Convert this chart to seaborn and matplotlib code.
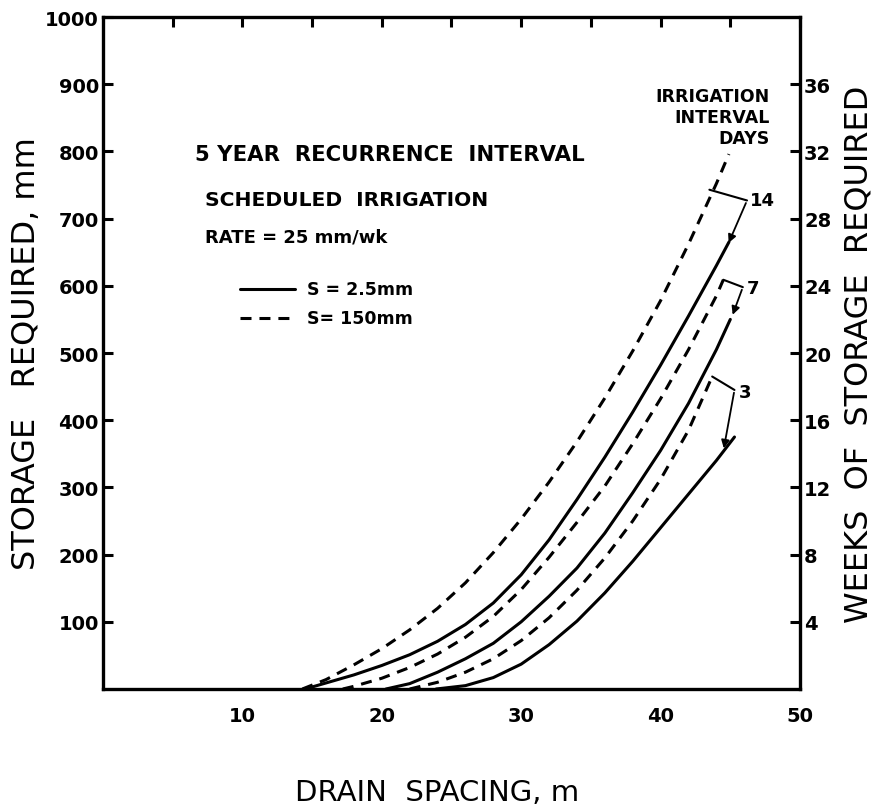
import numpy as np
import pandas as pd
import matplotlib
matplotlib.use("Agg")
import matplotlib.pyplot as plt
import seaborn as sns

# ---------------- data ----------------
# drain spacing (m) and storage required (mm)
d14_x = [14.3, 16, 18, 20, 22, 24, 26, 28, 30, 32, 34, 36, 38, 40, 42, 44, 44.9]
d14_y = [0, 14, 36, 60, 88, 120, 158, 203, 253, 308, 368, 433, 503, 578, 662, 752, 796]

s14_x = [14.5, 16, 18, 20, 22, 24, 26, 28, 30, 32, 34, 36, 38, 40, 42, 44, 44.9]
s14_y = [0, 9, 21, 35, 51, 71, 96, 128, 170, 222, 282, 345, 412, 482, 555, 630, 665]

d7_x = [17.2, 18, 20, 22, 24, 26, 28, 30, 32, 34, 36, 38, 40, 42, 44, 44.5]
d7_y = [0, 4, 16, 32, 52, 77, 108, 148, 196, 248, 302, 365, 432, 505, 585, 609]

s7_x = [20.3, 22, 24, 26, 28, 30, 32, 34, 36, 38, 40, 42, 44, 45]
s7_y = [0, 8, 25, 45, 68, 100, 138, 180, 232, 292, 355, 425, 505, 550]

d3_x = [22.0, 24, 26, 28, 30, 32, 34, 36, 38, 40, 42, 43.7]
d3_y = [0, 10, 25, 45, 72, 106, 147, 195, 250, 312, 385, 465]

s3_x = [23.9, 26, 28, 30, 32, 34, 36, 38, 40, 42, 44, 45.3]
s3_y = [0, 5, 17, 37, 66, 101, 143, 190, 240, 290, 340, 375]

intervals = ["14", "14", "7", "7", "3", "3"]
surface = ["S= 150mm", "S= 2.5mm", "S= 150mm", "S= 2.5mm", "S= 150mm", "S= 2.5mm"]

x_major = [5, 10, 15, 20, 25, 30, 35, 40, 45, 50]
x_labels = ["", "10", "", "20", "", "30", "", "40", "", "50"]
y_ticks = [100, 200, 300, 400, 500, 600, 700, 800, 900, 1000]
week_ticks = [4, 8, 12, 16, 20, 24, 28, 32, 36]
mm_per_week = 25

curves_x = [d14_x, s14_x, d7_x, s7_x, d3_x, s3_x]
curves_y = [d14_y, s14_y, d7_y, s7_y, d3_y, s3_y]

frames = []
for cx, cy, iv, sf in zip(curves_x, curves_y, intervals, surface):
    frames.append(pd.DataFrame({"spacing": cx, "storage": cy,
                                "interval": iv, "surface": sf}))
df = pd.concat(frames, ignore_index=True)

# ---------------- figure ----------------
sns.set_theme(style="white")
plt.rcParams['font.family'] = ['DejaVu Sans']
plt.rcParams.update({"text.color": "black", "axes.labelcolor": "black",
                     "xtick.color": "black", "ytick.color": "black"})

fig = plt.figure(figsize=(8.78, 8.12), dpi=100)
ax = fig.add_axes([103/878, 1-690/812, (800-103)/878, (690-18)/812])

dash_style = (0, (3.6, 2.6))
for (iv, sf), g in df.groupby(["interval", "surface"], sort=False):
    ls = "-" if "2.5" in sf else dash_style
    sns.lineplot(data=g, x="spacing", y="storage", ax=ax, color="black",
                 linewidth=2.2, linestyle=ls, estimator=None, sort=False,
                 legend=False)

ax.set_xlim(0, 50)
ax.set_ylim(0, 1000)
ax.set_xticks(x_major)
ax.set_xticklabels(x_labels)
ax.set_yticks(y_ticks)
ax.set_yticklabels([str(v) for v in y_ticks])
ax.tick_params(axis="both", direction="in", length=7, width=2.2,
               labelsize=14, colors="black")
ax.tick_params(axis="x", top=True, pad=12)
ax.tick_params(axis="y", left=True, pad=3)
for lab in ax.get_xticklabels() + ax.get_yticklabels():
    lab.set_fontweight("bold")
for sp in ax.spines.values():
    sp.set_linewidth(2.4)
    sp.set_color("black")

ax.set_xlabel("DRAIN  SPACING, m", fontsize=21, color="black")
ax.xaxis.set_label_coords(0.479, -0.132)
ax.set_ylabel("STORAGE   REQUIRED, mm", fontsize=23, color="black")
ax.yaxis.set_label_coords(-0.088, 0.5)

# right axis: weeks of storage
ax2 = ax.twinx()
ax2.set_ylim(0, 1000 / mm_per_week)
ax2.set_yticks(week_ticks)
ax2.set_yticklabels([str(v) for v in week_ticks])
ax2.tick_params(axis="y", direction="in", length=7, width=2.2,
                labelsize=14, colors="black", pad=3)
for lab in ax2.get_yticklabels():
    lab.set_fontweight("bold")
for sp in ax2.spines.values():
    sp.set_visible(False)
ax2.set_ylabel("WEEKS  OF  STORAGE  REQUIRED", fontsize=23, color="black")
ax2.yaxis.set_label_coords(1.063, 0.5)

# ---------------- annotations ----------------
ax.text(6.6, 796, "5 YEAR  RECURRENCE  INTERVAL", fontsize=15.3,
        fontweight="bold", va="center", ha="left")
ax.text(7.3, 729, "SCHEDULED  IRRIGATION", fontsize=14.6,
        fontweight="bold", va="center", ha="left")
ax.text(7.3, 674, "RATE = 25 mm/wk", fontsize=13,
        fontweight="bold", va="center", ha="left")

ax.plot([9.8, 13.8], [595, 595], color="black", lw=2.2)
ax.text(14.6, 595, "S = 2.5mm", fontsize=12.5, fontweight="bold", va="center")
ax.plot([9.8, 13.8], [552, 552], color="black", lw=2.2, linestyle=dash_style)
ax.text(14.6, 552, "S= 150mm", fontsize=12.5, fontweight="bold", va="center")

ax.text(47.8, 851, "IRRIGATION\nINTERVAL\nDAYS", fontsize=12.5,
        fontweight="bold", ha="right", va="center", linespacing=1.2,
        multialignment="right")

# brackets with arrows
brackets = [
    ((43.5, 743), (46.2, 727), (44.8, 660), "14", (46.4, 727)),
    ((44.5, 609), (45.9, 598), (45.1, 553), "7", (46.2, 596)),
    ((43.7, 465), (45.3, 445), (44.5, 354), "3", (45.6, 442)),
]
for start, corner, tip, lab, lpos in brackets:
    ax.plot([start[0], corner[0]], [start[1], corner[1]], color="black", lw=1.5)
    ax.annotate("", xy=tip, xytext=corner,
                arrowprops=dict(arrowstyle="-|>", color="black", lw=1.3,
                                mutation_scale=12))
    ax.text(lpos[0], lpos[1], lab, fontsize=13, fontweight="bold",
            ha="left", va="center")

fig.savefig("out.png", dpi=100)
